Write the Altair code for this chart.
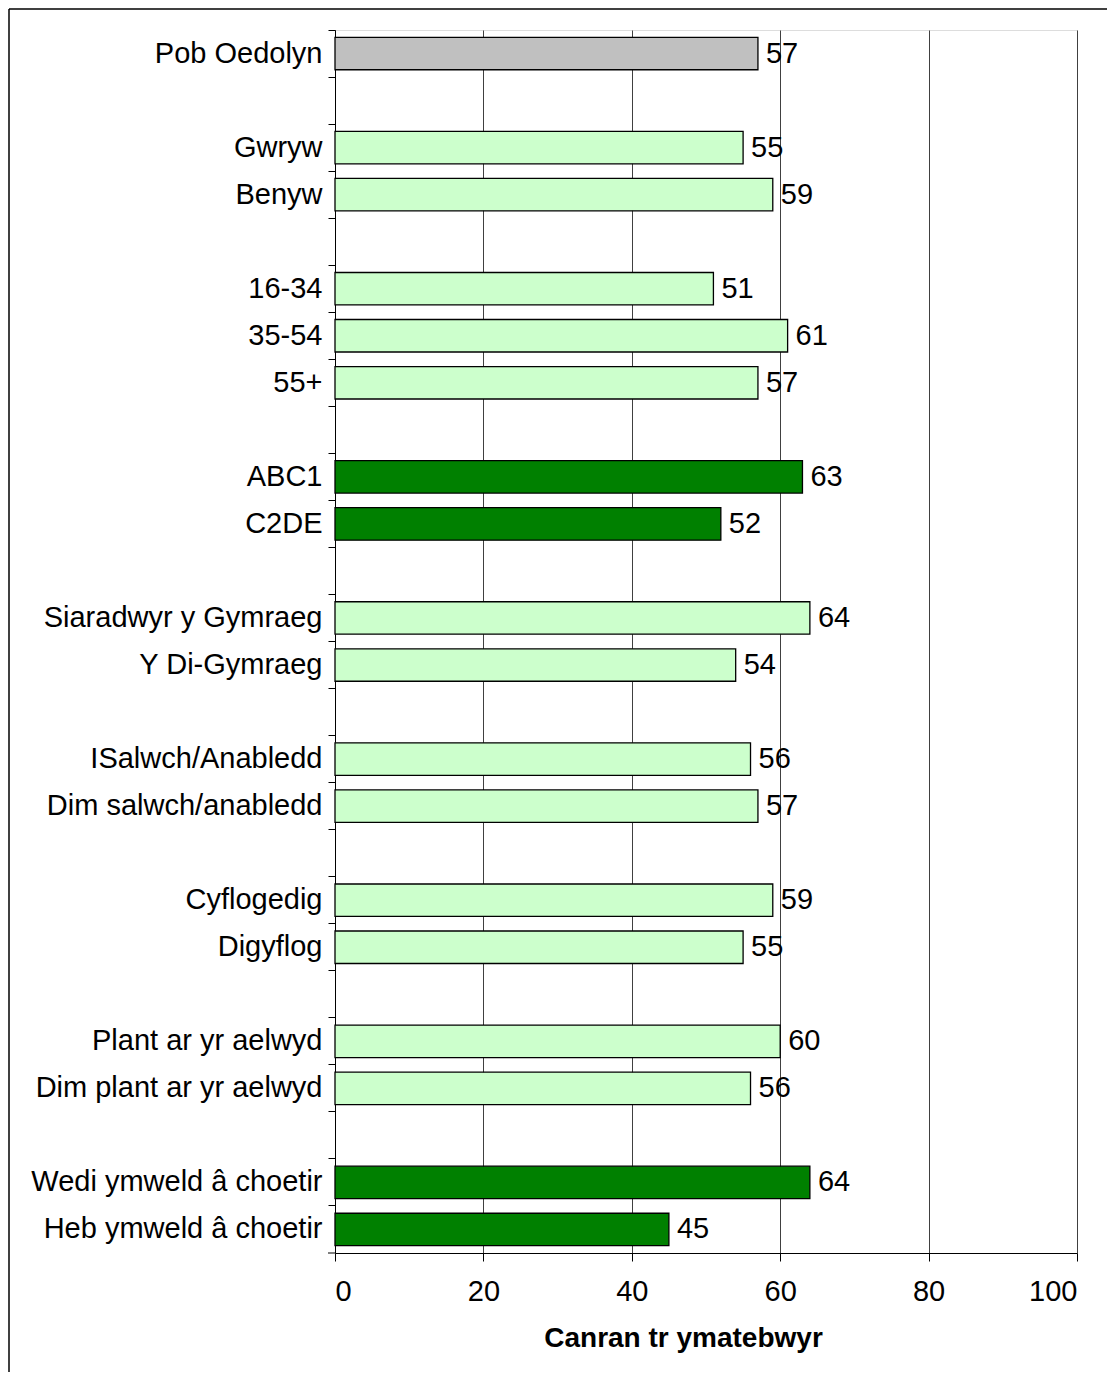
import altair as alt
import pandas as pd

categories = [
    "Pob Oedolyn", " ",
    "Gwryw", "Benyw", "  ",
    "16-34", "35-54", "55+", "   ",
    "ABC1", "C2DE", "    ",
    "Siaradwyr y Gymraeg", "Y Di-Gymraeg", "     ",
    "ISalwch/Anabledd", "Dim salwch/anabledd", "      ",
    "Cyflogedig", "Digyflog", "       ",
    "Plant ar yr aelwyd", "Dim plant ar yr aelwyd", "        ",
    "Wedi ymweld â choetir", "Heb ymweld â choetir",
]
values = [
    57, None,
    55, 59, None,
    51, 61, 57, None,
    63, 52, None,
    64, 54, None,
    56, 57, None,
    59, 55, None,
    60, 56, None,
    64, 45,
]
groups = [
    "all", "blank",
    "light", "light", "blank",
    "light", "light", "light", "blank",
    "dark", "dark", "blank",
    "light", "light", "blank",
    "light", "light", "blank",
    "light", "light", "blank",
    "light", "light", "blank",
    "dark", "dark",
]
x_ticks = [0, 20, 40, 60, 80, 100]

df = pd.DataFrame({"category": categories, "value": values, "group": groups})

FONT = "Liberation Sans"
W, H = 742, 1223

y_enc = alt.Y(
    "category:N",
    sort=categories,
    scale=alt.Scale(domain=categories, paddingInner=0, paddingOuter=0),
    axis=alt.Axis(
        title=None,
        bandPosition=0,
        labelFont=FONT,
        labelFontSize=29,
        labelColor="black",
        labelPadding=6,
        labelLimit=400,
        tickColor="black",
        tickSize=7,
        domainColor="black",
        grid=False,
    ),
)

x_enc = alt.X(
    "value:Q",
    scale=alt.Scale(domain=[0, 100], nice=False),
    axis=alt.Axis(
        values=x_ticks,
        title="Canran tr ymatebwyr",
        titleFont=FONT,
        titleFontSize=28,
        titleFontWeight="bold",
        titleColor="black",
        titleX=348,
        titleY=85,
        titleBaseline="middle",
        labelFont=FONT,
        labelFontSize=29,
        labelColor="black",
        labelPadding=16,
        tickColor="black",
        tickSize=8,
        domainColor="black",
        grid=True,
        gridColor="#404040",
        gridWidth=1,
    ),
)

bars = alt.Chart(df).mark_bar(
    stroke="black", strokeWidth=1.3, height=alt.RelativeBandSize(0.69)
).encode(
    y=y_enc,
    x=x_enc,
    color=alt.Color(
        "group:N",
        scale=alt.Scale(domain=["all", "light", "dark", "blank"],
                        range=["#C0C0C0", "#CCFFCC", "#008000", "#ffffff"]),
        legend=None,
    ),
)

labels = alt.Chart(df).transform_filter("datum.value != null").mark_text(
    align="left", baseline="middle", dx=8, font=FONT, fontSize=29, color="black"
).encode(
    y=alt.Y("category:N", sort=categories),
    x=alt.X("value:Q"),
    text=alt.Text("value:Q"),
)

frame_df = pd.DataFrame({"k": [0]})
top_line = alt.Chart(frame_df).mark_rule(color="black", strokeWidth=1.5).encode(
    x=alt.value(-326), x2=alt.value(800), y=alt.value(-21)
)
top_line2 = alt.Chart(frame_df).mark_rule(color="#999999", strokeWidth=1).encode(
    x=alt.value(-326), x2=alt.value(800), y=alt.value(-24)
)
left_line = alt.Chart(frame_df).mark_rule(color="black", strokeWidth=1.5).encode(
    x=alt.value(-326), y=alt.value(-21), y2=alt.value(1360)
)
bottom_tick = alt.Chart(frame_df).mark_rule(color="black", strokeWidth=1).encode(
    x=alt.value(-7), x2=alt.value(0), y=alt.value(H)
)

chart = alt.layer(bars, labels, top_line2, top_line, left_line, bottom_tick).properties(
    width=W,
    height=H,
    autosize=alt.AutoSizeParams(type="none"),
    padding={"left": 327, "top": 22, "right": 30, "bottom": 119},
).configure_view(
    stroke="black", strokeWidth=1
).configure(background="white")

chart.save("out.html", embed_options={"renderer": "svg", "actions": False})
